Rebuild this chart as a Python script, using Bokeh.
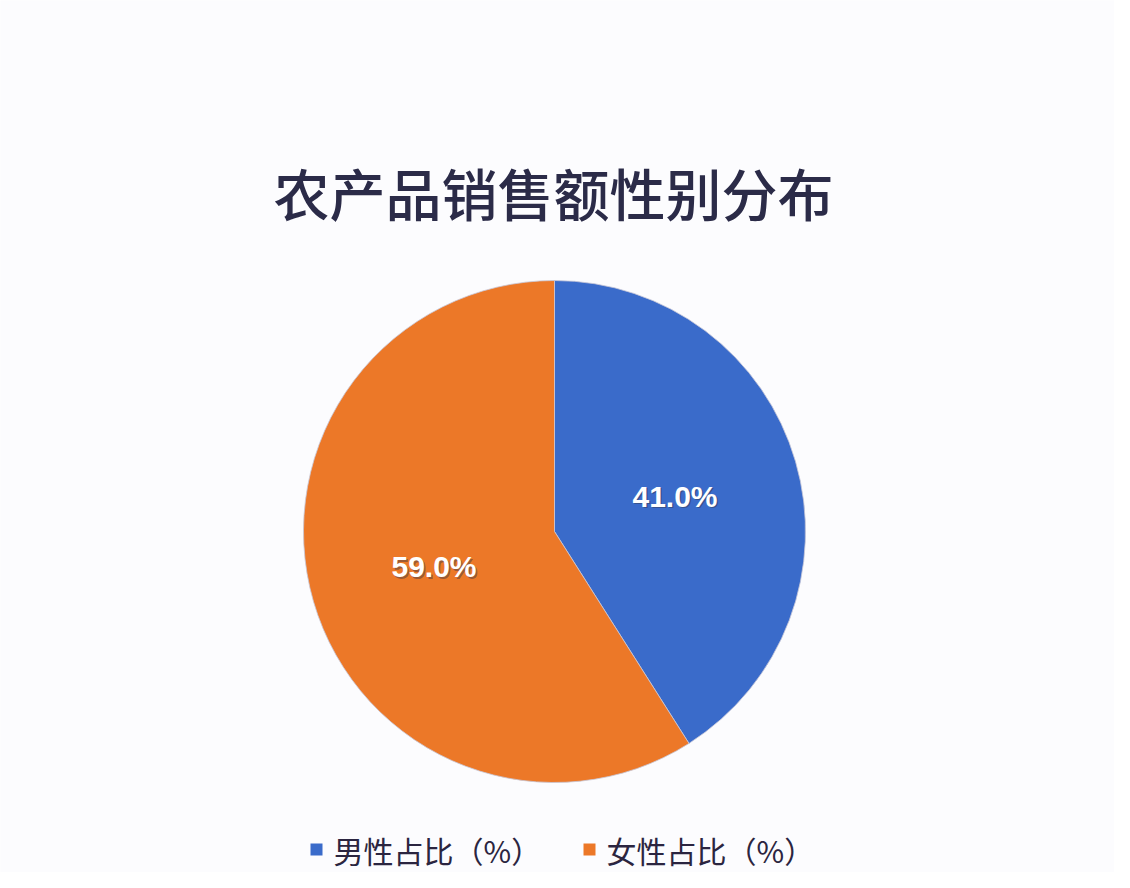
import numpy as np
from bokeh.plotting import figure
from bokeh.models import Range1d, ColumnDataSource
from bokeh.core.properties import value
from bokeh.embed import file_html
from bokeh.resources import INLINE

# ---- data ----
title = "农产品销售额性别分布"
categories = ["男性占比（%）", "女性占比（%）"]
shares = [41.0, 59.0]
colors = ["#3a6bca", "#ec7828"]

# ---- layout constants (pixels) ----
W, H = 1114, 872
cx, cy_px = 554, 531
R = 251
cy = H - cy_px

p = figure(width=W, height=H, x_range=Range1d(0, W), y_range=Range1d(0, H),
           output_backend="svg", toolbar_location=None, min_border=0,
           background_fill_color="#fcfcfe", border_fill_color="#fcfcfe")
p.axis.visible = False
p.grid.visible = False
p.outline_line_color = None

# wedge angles from data
frac = np.array(shares) / sum(shares)
cum = np.concatenate([[0], np.cumsum(frac)])
start = np.pi / 2 - 2 * np.pi * cum[:-1]
end = np.pi / 2 - 2 * np.pi * cum[1:]
mid = (start + end) / 2

src = ColumnDataSource(dict(x=[cx] * len(shares), y=[cy] * len(shares),
                            start=start, end=end, color=colors))
p.wedge(x="x", y="y", radius=R, start_angle="start", end_angle="end",
        direction="clock", fill_color="color", line_color="#c8c8d8",
        line_width=0.8, source=src)

# labels
lr = R * 0.5
lx = cx + lr * np.cos(mid)
ly = cy + lr * np.sin(mid)
labels = [f"{s:.1f}%" for s in shares]
p.text(x=lx + 1.5, y=ly - 1.5, text=labels, text_color="#333344", text_alpha=0.45,
       text_font=value("Liberation Sans"), text_font_style="bold",
       text_font_size="30px", text_align="center", text_baseline="middle")
p.text(x=lx, y=ly, text=labels, text_color="#ffffff",
       text_font=value("Liberation Sans"), text_font_style="bold",
       text_font_size="30px", text_align="center", text_baseline="middle")

# title
p.text(x=[cx - 1], y=[H - 191], text=[title], text_color="#2b2b48",
       text_font=value("Noto Sans CJK SC Medium, Noto Sans CJK SC"),
       text_font_size="56px", text_align="center", text_baseline="middle")

# legend (manual)
leg_y = H - 849
leg_x0 = 316
leg_step = 273
for i, (cat, col) in enumerate(zip(categories, colors)):
    x0 = leg_x0 + i * leg_step
    p.rect(x=[x0], y=[leg_y], width=12, height=12, fill_color=col, line_color=None)
    p.text(x=[x0 + 17], y=[leg_y], text=[cat], text_color="#2b2540",
           text_font=value("Noto Sans CJK SC"), text_font_size="30px",
           text_align="left", text_baseline="middle")

open("out.html", "w").write(file_html(p, INLINE))
